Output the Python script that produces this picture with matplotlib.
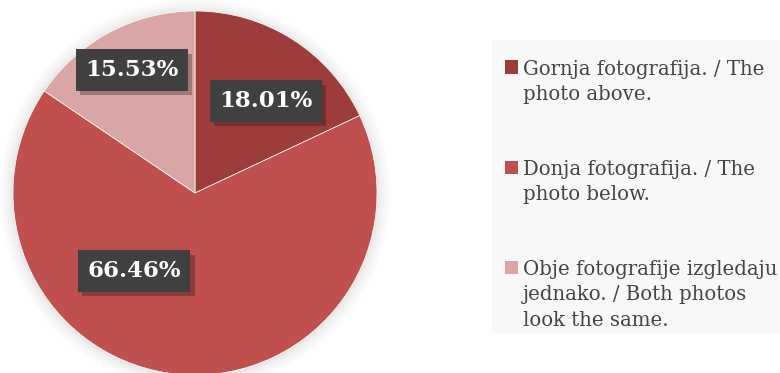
import matplotlib.pyplot as plt
import matplotlib.patheffects as pe
from matplotlib.patches import Rectangle, Circle

labels = ["Gornja fotografija. / The\nphoto above.",
          "Donja fotografija. / The\nphoto below.",
          "Obje fotografije izgledaju\njednako. / Both photos\nlook the same."]
shares = [18.01, 66.46, 15.53]
colors = ["#9c3d3b", "#c0504d", "#d9a6a5"]

fig = plt.figure(figsize=(7.8, 3.73), dpi=100)

# pie axes: circle centre ~ (195, 193) px, radius ~182 px
ax = fig.add_axes([13 / 780, -2 / 373, 364 / 780, 364 / 373])

# soft shadow round the pie
for r in [1.07, 1.055, 1.04, 1.027, 1.016, 1.007]:
    ax.add_patch(Circle((0.0, -0.005), r, color="black", alpha=0.016, lw=0,
                        zorder=0, clip_on=False))

wedges, _, autotexts = ax.pie(shares, colors=colors, startangle=90, counterclock=False,
                              radius=1, autopct="%.2f%%", pctdistance=0.6,
                              wedgeprops=dict(edgecolor="white", linewidth=0.5),
                              textprops=dict(family="DejaVu Serif", fontsize=16.5,
                                             fontweight="bold", color="white"))
for w in wedges:
    w.set_zorder(2)
ax.set_xlim(-1, 1)
ax.set_ylim(-1, 1)
ax.set_aspect("equal")
ax.axis("off")

label_pos = [(0.390, 0.505), (-0.335, -0.429), (-0.346, 0.676)]
for t, p in zip(autotexts, label_pos):
    t.set_position(p)
    t.set_zorder(5)
    t.set_bbox(dict(boxstyle="square,pad=0.42", facecolor="#404040", edgecolor="none"))
    t.get_bbox_patch().set_path_effects([pe.SimplePatchShadow(offset=(3, -3), alpha=0.3),
                                         pe.Normal()])

# legend panel
fig.patches.append(Rectangle((492 / 780, 1 - 333 / 373), 288 / 780, 293 / 373,
                             transform=fig.transFigure, facecolor="#f8f8f8",
                             edgecolor="none", zorder=0))
for i, (lab, c) in enumerate(zip(labels, colors)):
    yc = 67 + 100 * i
    fig.patches.append(Rectangle((505 / 780, 1 - (yc + 6.5) / 373), 13 / 780, 13 / 373,
                                 transform=fig.transFigure, facecolor=c,
                                 edgecolor="none", zorder=1))
    fig.text(523 / 780, 1 - (yc - 7) / 373, lab, family="DejaVu Serif", fontsize=14.2,
             color="#454545", va="top", ha="left", linespacing=1.42)

fig.savefig("out.png", dpi=100)
